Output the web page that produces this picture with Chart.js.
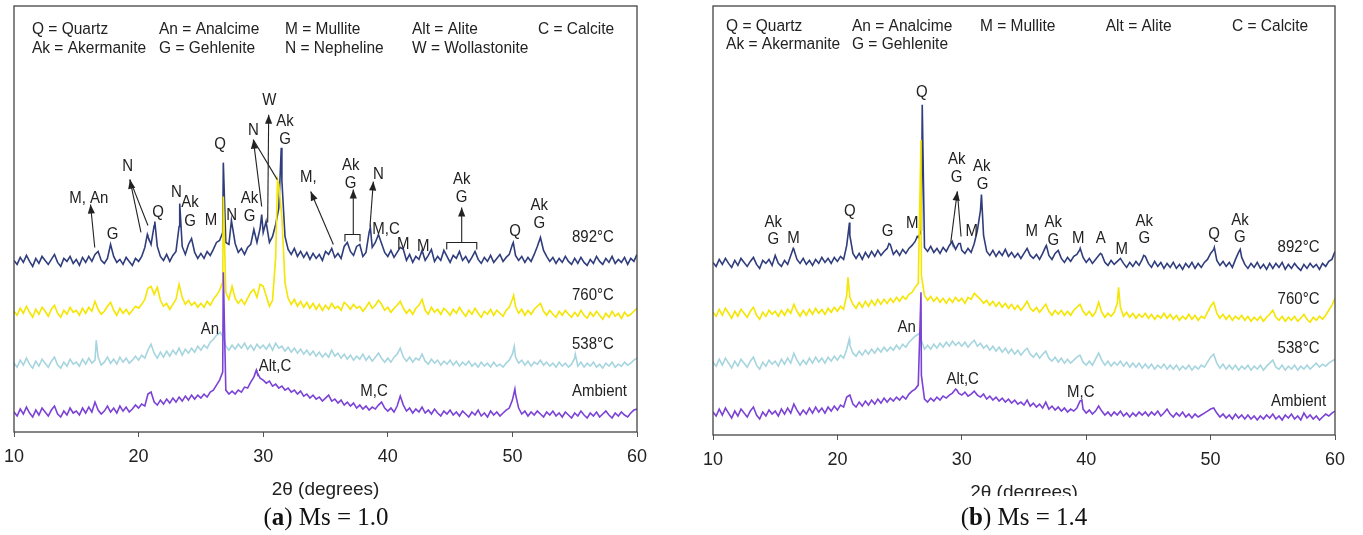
<!DOCTYPE html>
<html>
<head>
<meta charset="utf-8">
<script src="https://cdn.jsdelivr.net/npm/chart.js@4.4.1/dist/chart.umd.min.js"></script>
<style>
  body { margin: 0; background: #fff; width: 1363px; height: 535px; position: relative; overflow: hidden; }
  canvas { position: absolute; top: 0; }
  #xrdA { left: -8px; }
  #xrdB { left: 690px; }
  .cap { position: absolute; top: 503px; width: 300px; text-align: center; font-family: "Liberation Serif", "Times New Roman", serif; font-size: 25px; line-height: 28px; color: #111; }
  #clipB { position: absolute; left: 950px; top: 496px; width: 160px; height: 8px; background: #fff; }
</style>
</head>
<body>
<canvas id="xrdA" width="690" height="505"></canvas>
<canvas id="xrdB" width="673" height="505"></canvas>
<div id="clipB"></div>
<div class="cap" style="left:176px">(<b>a</b>) Ms = 1.0</div>
<div class="cap" style="left:874px">(<b>b</b>) Ms = 1.4</div>
<script>
// 2-theta grid shared by every scan (0.25 deg steps, 10 to 60)
var twoTheta = [];
for (var i = 0; i <= 200; i++) twoTheta.push(10 + i * 0.25);

// ---- (a) Ms = 1.0 : stacked intensities (offset units) ----
var a892 = [
  172,168,175,170,177,171,166,174,169,176,172,168,173,178,170,166,174,171,176,169,
  173,167,175,170,176,171,178,181,172,169,174,188,176,170,173,168,175,171,167,174,
  171,176,185,196,188,207,186,176,172,178,171,177,181,206,186,178,188,194,180,174,
  179,174,181,177,183,190,192,200,190,188,208,189,180,184,178,185,188,203,190,204,
  200,209,190,196,208,224,252,196,183,178,184,176,181,175,180,173,179,174,178,172,
  181,178,184,175,179,174,186,190,181,177,186,188,176,180,200,185,190,198,189,180,
  176,182,175,180,185,183,172,178,170,176,173,182,172,177,183,171,176,172,182,176,
  170,177,174,181,172,176,170,175,181,173,169,175,171,177,170,174,178,171,175,178,
  188,177,172,176,170,175,171,178,186,195,182,176,171,175,169,174,170,176,171,168,
  174,169,175,170,167,173,169,176,171,168,174,170,176,169,173,170,175,168,174,171,
  178];
var a892Peaks = [[20.7,198],[21.3,211],[23.3,229],[26.8,270],[27.45,212],[29.88,218],[30.23,211],[31.45,285],[38.6,205],[50.07,190]];

var a760 = [
  121,117,124,119,126,120,115,123,118,125,121,116,123,127,119,115,122,118,125,120,
  122,117,124,119,125,121,131,123,118,121,126,130,122,117,124,119,123,118,122,126,
  124,128,133,144,146,138,145,132,126,129,123,128,133,148,135,128,132,127,130,125,
  129,125,131,127,133,137,142,150,140,133,146,134,129,133,128,134,140,143,135,148,
  146,136,126,132,175,248,215,150,134,128,133,126,131,125,130,124,129,123,128,122,
  127,123,129,124,126,122,130,127,123,128,124,126,121,125,130,124,127,132,128,122,
  125,120,124,127,131,124,119,123,118,124,127,133,122,118,125,120,123,118,124,121,
  117,123,119,125,120,116,122,118,124,119,115,121,118,123,117,122,119,116,122,125,
  133,126,119,123,117,122,118,123,126,129,121,117,122,118,115,121,117,122,118,115,
  120,116,122,117,114,120,116,121,117,113,119,115,121,116,119,114,120,116,118,121,
  124];
var a760Peaks = [[26.8,236],[31.15,253],[50.1,137]];

var a538 = [
  69,65,72,67,74,68,64,71,66,73,69,65,71,75,67,64,70,66,73,68,
  70,66,73,68,74,69,72,75,67,70,75,69,73,68,75,70,74,69,72,76,
  72,77,74,82,88,79,74,80,75,81,76,82,78,84,77,83,79,84,80,86,
  82,87,84,90,93,97,99,96,86,82,87,83,88,84,89,83,87,82,88,84,
  87,83,88,82,89,84,86,81,85,80,84,79,83,78,82,77,81,76,80,75,
  79,75,82,76,79,74,78,73,77,72,76,73,78,72,76,71,75,79,74,70,
  74,70,75,78,84,75,71,75,70,74,72,78,71,68,73,69,72,67,71,68,
  72,67,71,66,70,67,71,66,69,65,70,66,69,65,70,66,68,65,69,72,
  78,75,69,72,67,71,66,70,68,72,67,70,66,69,65,70,66,69,65,68,
  74,66,70,65,69,66,70,65,68,64,69,66,70,65,68,66,70,67,69,72,
  74];
var a538Peaks = [[16.6,92],[26.55,100],[50.15,86],[55.05,78]];

var aAmb = [
  20,16,23,18,25,19,15,22,17,24,20,16,22,26,18,15,21,17,24,19,
  21,17,24,19,25,20,30,22,18,21,26,20,24,19,26,21,25,20,23,27,
  24,28,26,38,40,30,27,32,28,33,29,34,30,35,31,36,32,37,33,37,
  34,38,35,40,42,47,52,60,42,38,41,38,42,40,45,44,50,55,60,54,
  52,49,51,46,48,44,46,42,44,40,42,38,41,36,38,34,37,33,35,31,
  34,37,31,33,29,32,27,30,26,29,24,27,23,26,22,25,23,27,30,24,
  21,24,20,26,36,27,21,24,19,23,20,25,19,22,18,23,19,16,21,18,
  22,17,20,16,21,18,15,20,17,22,16,19,15,21,17,20,16,19,22,24,
  32,38,24,18,21,16,20,17,21,18,15,20,17,21,16,19,15,20,17,14,
  19,16,21,17,14,19,16,20,15,18,21,17,14,19,16,20,17,15,19,22,
  23];
var aAmbPeaks = [[26.8,160],[29.45,62],[50.2,43]];

// ---- (b) Ms = 1.4 ----
var b892 = [
  173,169,176,171,177,172,168,175,170,177,173,169,174,178,171,167,175,172,176,170,
  180,172,169,175,171,180,186,176,172,177,171,175,170,176,172,178,173,177,172,178,
  174,179,176,190,200,182,177,182,176,183,178,184,179,185,180,184,187,191,181,185,
  180,186,182,187,190,194,198,205,188,184,189,183,187,182,188,184,190,193,186,192,
  185,182,187,183,192,205,225,200,184,180,185,179,184,180,186,179,183,178,182,177,
  182,187,180,177,181,176,182,189,180,176,182,185,177,173,178,174,179,181,186,178,
  173,177,172,176,180,181,173,170,175,171,174,177,172,168,173,169,174,170,176,179,
  172,168,174,169,173,167,172,168,173,167,171,166,172,168,173,167,172,168,173,176,
  182,186,175,170,174,169,173,168,176,183,178,171,167,172,168,173,167,171,166,172,
  167,172,168,173,166,171,167,172,168,165,171,167,172,168,171,166,172,169,174,176,
  184];
var b892Peaks = [[16.45,187],[20.97,213],[24.15,192],[26.42,199],[26.82,331],[29.23,194],[29.88,192],[31.58,241],[36.8,190],[39.52,187],[41.15,182],[44.62,180],[50.3,188],[52.38,186]];

var b760 = [
  123,119,126,120,127,122,117,124,119,126,122,118,124,128,120,116,123,119,125,121,
  124,119,125,120,126,122,131,124,119,125,120,126,121,127,122,126,121,127,123,128,
  124,129,126,140,138,131,127,133,128,134,129,135,130,136,131,136,132,137,133,138,
  134,139,136,141,143,148,152,160,140,135,139,134,138,133,137,132,137,133,138,134,
  137,132,138,136,142,139,136,132,135,130,134,129,133,128,132,127,131,126,130,125,
  129,134,127,124,128,123,127,131,124,120,125,121,125,120,124,120,125,128,131,124,
  120,124,119,123,133,123,118,122,119,123,132,128,119,123,118,122,117,121,118,122,
  117,121,116,120,117,122,117,121,116,120,115,119,116,121,116,120,115,119,117,123,
  129,133,122,117,121,116,120,115,119,116,120,115,119,114,118,115,119,114,118,121,
  125,118,115,119,114,118,115,119,114,117,121,116,113,118,115,119,116,120,125,130,
  137];
var b760Peaks = [[20.85,158],[26.72,296],[42.6,148]];

var b538 = [
  73,69,76,70,77,72,67,74,69,76,72,68,74,78,70,66,73,69,75,71,
  74,69,76,71,77,72,82,75,70,75,71,77,72,78,73,77,72,78,74,79,
  75,80,77,86,90,82,79,84,80,85,81,86,82,87,83,88,84,88,85,90,
  86,91,88,93,96,99,101,95,86,90,86,91,87,92,88,93,89,94,90,93,
  89,93,88,92,95,89,92,87,90,85,89,84,88,83,87,82,86,81,85,80,
  84,87,81,78,82,77,81,84,77,74,78,73,77,72,76,72,75,78,80,73,
  70,74,70,76,82,75,70,74,69,73,70,74,69,73,68,72,68,72,67,71,
  67,71,66,70,67,71,66,70,66,70,65,69,66,70,65,69,66,70,68,73,
  78,81,72,67,71,66,70,66,70,65,69,66,70,65,69,66,70,65,69,72,
  75,68,66,70,65,69,66,70,65,69,66,70,66,69,72,68,71,69,72,74,
  76];
var b538Peaks = [[20.95,96],[26.6,102]];

var bAmb = [
  23,19,26,20,27,22,17,24,19,26,22,18,24,28,20,16,23,19,25,21,
  24,19,26,21,27,22,31,25,20,25,21,27,22,28,23,27,22,28,24,29,
  25,30,28,38,40,31,28,33,29,34,30,35,31,36,32,37,33,37,34,38,
  35,39,36,41,44,46,50,60,36,33,37,34,38,35,39,37,40,42,46,42,
  40,43,39,41,44,40,38,41,36,39,35,38,34,37,33,36,32,35,31,33,
  30,35,29,32,28,31,27,33,26,29,25,28,24,27,23,26,24,27,34,26,
  22,25,21,24,29,24,20,23,19,23,20,24,19,22,18,22,19,23,20,23,
  19,23,20,24,19,22,26,21,18,22,19,23,18,21,17,21,18,20,22,24,
  26,27,22,18,21,17,20,16,21,17,20,16,20,16,19,15,19,16,20,17,
  21,16,19,15,20,17,21,16,19,15,22,17,20,16,19,15,18,21,19,22,
  24];
var bAmbPeaks = [[26.72,143],[29.6,45],[39.65,35]];

var seriesNames = ["892°C", "760°C", "538°C", "Ambient"];
var seriesColors = ["#2f3d7c", "#f4e600", "#a6d5df", "#7b42d6"];

// phase key text
var keyRow1 = ["Q = Quartz", "An = Analcime", "M = Mullite", "Alt = Alite", "C = Calcite"];
var keyRowA2 = ["Ak = Akermanite", "G = Gehlenite", "N = Nepheline", "W = Wollastonite"];
var keyRowB2 = ["Ak = Akermanite", "G = Gehlenite"];

// peak labels [text, 2theta, height]
var aLabels = [
  ["M, An",16.0,234],["G",17.91,198],["N",19.13,266],["Q",21.56,220],["N",23.04,240],
  ["Ak",24.13,230],["G",24.13,211],["M",25.81,212],["Q",26.53,288],["N",27.46,217],
  ["Ak",28.9,234],["G",28.9,216],["N",29.21,302],["W",30.49,332],["Ak",31.75,311],["G",31.75,293],
  ["M,",33.62,255],["Ak",37.02,267],["G",37.02,249],["N",39.24,258],["M,C",39.86,203],
  ["M",41.24,188],["M",42.85,186],["Ak",45.93,253],["G",45.93,235],["Q",50.21,201],
  ["Ak",52.16,227],["G",52.16,209],["An",25.73,103],["Alt,C",30.95,66],["M,C",38.89,41]
];
var aArrows = [
  [16.48,185,16.14,228,1],[20.19,200,19.3,253,1],[20.75,207,19.3,253,0],
  [29.88,226,29.21,293,1],[31.13,253,29.21,293,0],[30.36,210,30.44,318,1],
  [35.63,188,33.81,241,1],[37.23,198,37.23,243,1],[38.57,206,38.84,251,1],[45.93,190,45.93,225,1]
];
var aBrackets = [[36.56,37.77,198,191],[44.73,47.14,190,183]];

var bLabels = [
  ["Ak",14.84,213],["G",14.84,196],["M",16.47,197],["Q",20.99,224],["G",24.04,204],
  ["M",26.02,212],["Q",26.78,343],["Ak",29.59,276],["G",29.59,258],["M",30.8,204],
  ["Ak",31.6,269],["G",31.68,251],["M",35.62,204],["Ak",37.36,213],["G",37.36,195],
  ["M",39.37,197],["A",41.17,197],["M",42.85,186],["Ak",44.67,214],["G",44.67,197],
  ["Q",50.27,201],["Ak",52.36,215],["G",52.36,198],["An",25.57,108],["Alt,C",30.07,56],["M,C",39.56,43]
];
var bArrows = [[29.11,193,29.64,244,1],[29.94,199,29.64,244,0]];
var bBrackets = [];

function pattern(vals, peaks) {
  var pts = vals.map(function (v, i) { return { x: twoTheta[i], y: v }; });
  peaks.forEach(function (p) { pts.push({ x: p[0], y: p[1] }); });
  pts.sort(function (p, q) { return p.x - q.x; });
  return pts;
}

var txtFont = '15px "Liberation Sans", Arial, sans-serif';
var keyFont = '15.5px "Liberation Sans", Arial, sans-serif';

function drawText(ctx, t, x, y, align, font) {
  ctx.save();
  ctx.translate(x, y);
  ctx.scale(1, 1.12);
  ctx.font = font;
  ctx.textAlign = align;
  ctx.textBaseline = 'middle';
  ctx.fillStyle = '#222';
  ctx.fillText(t, 0, 0);
  ctx.restore();
}

function drawArrow(ctx, x1, y1, x2, y2, head) {
  ctx.beginPath(); ctx.moveTo(x1, y1); ctx.lineTo(x2, y2); ctx.stroke();
  if (!head) return;
  var ang = Math.atan2(y2 - y1, x2 - x1), L = 9, W = 3.6;
  var bx = x2 - L * Math.cos(ang), by = y2 - L * Math.sin(ang);
  ctx.beginPath();
  ctx.moveTo(x2, y2);
  ctx.lineTo(bx + W * Math.sin(ang), by - W * Math.cos(ang));
  ctx.lineTo(bx - W * Math.sin(ang), by + W * Math.cos(ang));
  ctx.closePath(); ctx.fill();
}

function notesPlugin(n) {
  return {
    id: 'notes',
    afterDatasetsDraw: function (chart) {
      var ctx = chart.ctx, xs = chart.scales.x, ys = chart.scales.y, a = chart.chartArea;
      function X(v) { return xs.getPixelForValue(v); }
      function Y(v) { return ys.getPixelForValue(v); }
      ctx.save();
      // frame
      ctx.strokeStyle = '#444'; ctx.lineWidth = 1.3;
      ctx.strokeRect(a.left, a.top, a.right - a.left, a.bottom - a.top);
      // phase key
      n.key1.forEach(function (t, i) { drawText(ctx, t, X(n.keyCols[i]), Y(n.keyRows[0]), 'left', keyFont); });
      n.key2.forEach(function (t, i) { drawText(ctx, t, X(n.keyCols[i]), Y(n.keyRows[1]), 'left', keyFont); });
      // arrows and brackets
      ctx.strokeStyle = '#222'; ctx.fillStyle = '#222'; ctx.lineWidth = 1.1;
      n.arrows.forEach(function (r) { drawArrow(ctx, X(r[0]), Y(r[1]), X(r[2]), Y(r[3]), r[4]); });
      n.brackets.forEach(function (b) {
        ctx.beginPath();
        ctx.moveTo(X(b[0]), Y(b[3])); ctx.lineTo(X(b[0]), Y(b[2]));
        ctx.lineTo(X(b[1]), Y(b[2])); ctx.lineTo(X(b[1]), Y(b[3]));
        ctx.stroke();
      });
      n.labels.forEach(function (l) { drawText(ctx, l[0], X(l[1]), Y(l[2]), 'center', txtFont); });
      seriesNames.forEach(function (s, i) { drawText(ctx, s, X(n.nameX), Y(n.nameY[i]), n.nameAlign, txtFont); });
      ctx.restore();
    }
  };
}

function makeChart(id, scans, n, ymax, pad) {
  var sets = scans.map(function (s, i) {
    return {
      label: seriesNames[i], data: pattern(s[0], s[1]),
      borderColor: seriesColors[i], borderWidth: 1.6,
      pointRadius: 0, tension: 0, order: 4 - i
    };
  });
  return new Chart(document.getElementById(id), {
    type: 'line',
    data: { datasets: sets },
    options: {
      responsive: false, animation: false, devicePixelRatio: 1,
      parsing: false, normalized: true,
      layout: { padding: pad },
      plugins: { legend: { display: false }, tooltip: { enabled: false } },
      scales: {
        x: {
          type: 'linear', min: 10, max: 60,
          ticks: { stepSize: 10, padding: 9, color: '#222', font: { family: '"Liberation Sans", Arial, sans-serif', size: 18 } },
          grid: { drawOnChartArea: false, drawTicks: true, tickLength: 5, color: '#555' },
          border: { display: false },
          title: { display: true, text: '2θ (degrees)', color: '#222', padding: { top: 2, bottom: 0 },
                   font: { family: '"Liberation Sans", Arial, sans-serif', size: 19 } }
        },
        y: { display: false, min: 0, max: ymax }
      }
    },
    plugins: [notesPlugin(n)]
  });
}

makeChart('xrdA', [[a892, a892Peaks], [a760, a760Peaks], [a538, a538Peaks], [aAmb, aAmbPeaks]], {
  key1: keyRow1, key2: keyRowA2, keyCols: [11.44, 21.64, 31.75, 41.94, 52.05], keyRows: [404, 385],
  labels: aLabels, arrows: aArrows, brackets: aBrackets,
  nameX: 54.78, nameY: [195, 137, 88, 41], nameAlign: 'left'
}, 427, { left: 22, right: 45, top: 6, bottom: 3.6 });

makeChart('xrdB', [[b892, b892Peaks], [b760, b760Peaks], [b538, b538Peaks], [bAmb, bAmbPeaks]], {
  key1: keyRow1, key2: keyRowB2, keyCols: [11.05, 21.17, 31.46, 41.57, 51.72], keyRows: [410, 392],
  labels: bLabels, arrows: bArrows, brackets: bBrackets,
  nameX: 57.07, nameY: [188, 136, 87, 34], nameAlign: 'center'
}, 430, { left: 23, right: 28, top: 6, bottom: 0.6 });
</script>
</body>
</html>
